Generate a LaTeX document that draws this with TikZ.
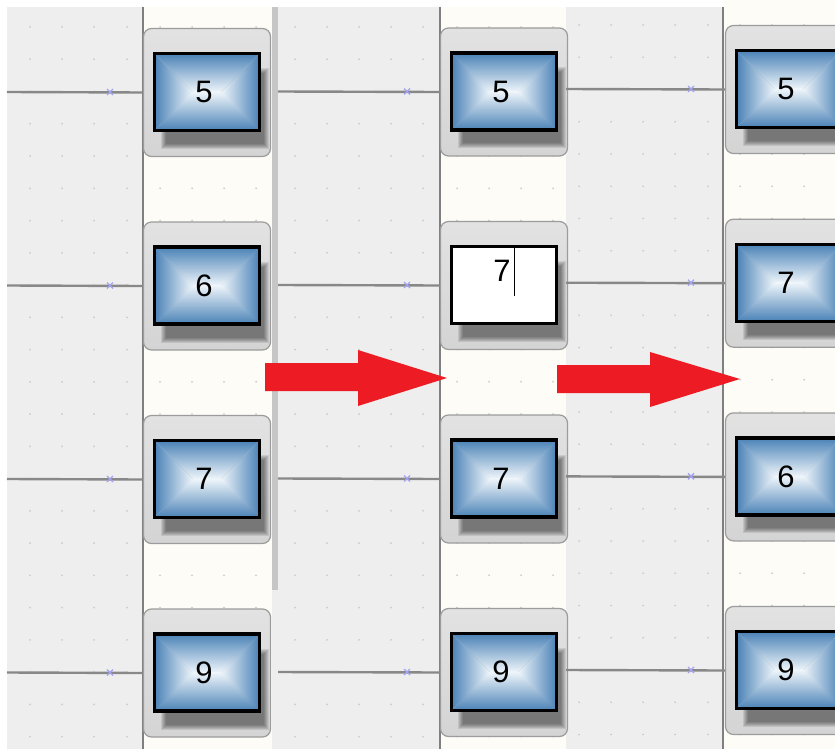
\documentclass[tikz,border=0pt]{standalone}
\usepackage{fontspec}
\setmainfont{Liberation Sans}
\usetikzlibrary{calc}
\definecolor{panelgray}{HTML}{EEEEEE}
\definecolor{cream}{HTML}{FDFCF7}
\definecolor{vline}{HTML}{7F7F7F}
\definecolor{hline}{HTML}{888888}
\definecolor{dotc}{HTML}{CBCBCB}
\definecolor{xmark}{HTML}{A3A3F0}
\definecolor{outertop}{HTML}{E2E2E2}
\definecolor{outerbot}{HTML}{D4D4D4}
\definecolor{outerdraw}{HTML}{9C9C9C}
\definecolor{blueedge}{HTML}{4A82B6}
\definecolor{bluecenter}{HTML}{F0F6FB}
\definecolor{arrowred}{HTML}{ED1C24}
\definecolor{scroll}{HTML}{C6C6C6}
\tikzset{
  outerbox/.style={rectangle, rounded corners=8, minimum width=127, minimum height=128,
    draw=outerdraw, line width=1.2, top color=outertop, bottom color=outerbot, inner sep=0},
  innerbox/.style={rectangle, minimum width=105, minimum height=77, draw=black, line width=3.2, inner sep=0,
    path picture={
      \coordinate (ppnw) at (path picture bounding box.north west);
      \coordinate (ppne) at (path picture bounding box.north east);
      \coordinate (ppsw) at (path picture bounding box.south west);
      \coordinate (ppse) at (path picture bounding box.south east);
      \shade[left color=blueedge, right color=bluecenter] (ppnw) -- (ppsw) -- ($(ppnw)+(39,39)$) -- cycle;
      \shade[left color=bluecenter, right color=blueedge] (ppne) -- (ppse) -- ($(ppne)+(-39,39)$) -- cycle;
      \shade[top color=blueedge, bottom color=bluecenter] (ppnw) -- (ppne) -- ($(ppne)+(-39,39)$) -- ($(ppnw)+(39,39)$) -- cycle;
      \shade[top color=bluecenter, bottom color=blueedge] (ppsw) -- (ppse) -- ($(ppse)+(-39,-39)$) -- ($(ppsw)+(39,-39)$) -- cycle;
    }},
  editbox/.style={rectangle, minimum width=105, minimum height=77, draw=black, line width=3.2, inner sep=0, fill=white},
  digit/.style={inner sep=0, font=\fontsize{31}{31}\selectfont, text=black},
  conn/.style={draw=hline, line width=2.4},
  xmk/.style={draw=xmark, line width=1.3},
  vsep/.style={draw=vline, line width=2.2},
  bigarrow/.style={fill=arrowred, draw=none}
}
\newcommand\tileshadow[2]{%
  \foreach \i in {0,...,5}{\fill[black,opacity=0.09] ({#1-46+\i},{#2-24+\i}) rectangle ({#1+62-\i},{#2+57-\i});}}
\newcommand\tileblk[4]{% name, cx, cy, label
  \node[outerbox] (#1) at (#2,{#3+0.5}) {};
  \tileshadow{#2}{#3}
  \node[innerbox] (#1-in) at (#2,#3) {};
  \node[digit] (#1-lbl) at ({#2-3},#3) {#4};
}
\newcommand\tileedit[4]{% name, cx, cy, label
  \node[outerbox] (#1) at (#2,{#3+0.5}) {};
  \tileshadow{#2}{#3}
  \node[editbox] (#1-in) at (#2,#3) {};
  \node[digit] (#1-lbl) at ({#2-2},{#3-14}) {#4};
  \draw[line width=1, black] ({#2+10},{#3-38}) -- ({#2+10},{#3+11});
}
\newcommand\xcross[2]{\draw[xmk] ({#1-3},{#2-3}) -- ({#1+3},{#2+3}) ({#1-3},{#2+3}) -- ({#1+3},{#2-3});}
\begin{document}
\begin{tikzpicture}[x=1pt,y=-1pt]
\useasboundingbox (0,0) rectangle (835,749);
\fill[white] (0,0) rectangle (835,749);
% panels
\fill[panelgray] (7,7) rectangle (143,749);
\fill[cream] (143,7) rectangle (272,749);
\fill[scroll] (272,7) rectangle (278,590);
\fill[panelgray] (272,590) rectangle (278,749);
\fill[panelgray] (278,7) rectangle (440,749);
\fill[cream] (440,7) rectangle (566,749);
\fill[panelgray] (566,7) rectangle (723,749);
\fill[cream] (723,0) rectangle (835,749);
% dots
\foreach \yy in {0,...,22}{
  \foreach \xx in {30,62,94,127,160,192,224,256,295,327,359,391,423,457,489,521,553}
    \fill[dotc] (\xx,{27+32.25*\yy}) circle (1);
  \foreach \xx in {579,611,643,675,708,740,772,804}
    \fill[dotc] (\xx,{25+32.25*\yy}) circle (1);
}
% vertical separators
\draw[vsep] (143,7) -- (143,749);
\draw[vsep] (440,7) -- (440,749);
\draw[vsep] (723,7) -- (723,749);
% tiles
\tileblk{p1a}{207}{92}{5}
\tileblk{p1b}{207}{285.5}{6}
\tileblk{p1c}{207}{479}{7}
\tileblk{p1d}{207}{672.5}{9}
\tileblk{p2a}{504}{91.5}{5}
\tileedit{p2b}{504}{285}{7}
\tileblk{p2c}{504}{478.5}{7}
\tileblk{p2d}{504}{672}{9}
\tileblk{p3a}{789}{89}{5}
\tileblk{p3b}{789}{282.7}{7}
\tileblk{p3c}{789}{476.4}{6}
\tileblk{p3d}{789}{670}{9}
% connectors
\foreach \n/\yy in {p1a/92,p1b/285.5,p1c/479,p1d/672.5}{
  \coordinate (\n-src) at (7,\yy);
  \draw[conn] (\n-src) -- (\n.west);
  \xcross{110}{\yy}
}
\foreach \n/\yy in {p2a/91.5,p2b/285,p2c/478.5,p2d/672}{
  \coordinate (\n-src) at (278,\yy);
  \draw[conn] (\n-src) -- (\n.west);
  \xcross{407}{\yy}
}
\foreach \n/\yy in {p3a/89,p3b/282.7,p3c/476.4,p3d/670}{
  \coordinate (\n-src) at (566,\yy);
  \draw[conn] (\n-src) -- (\n.west);
  \xcross{691}{\yy}
}
% red arrows
\fill[bigarrow] (265,363) -- (358,363) -- (358,350) -- (447,378) -- (358,406) -- (358,391) -- (265,391) -- cycle;
\fill[bigarrow] (557,365) -- (650,365) -- (650,352) -- (740,379) -- (650,407) -- (650,393) -- (557,393) -- cycle;
\end{tikzpicture}
\end{document}
